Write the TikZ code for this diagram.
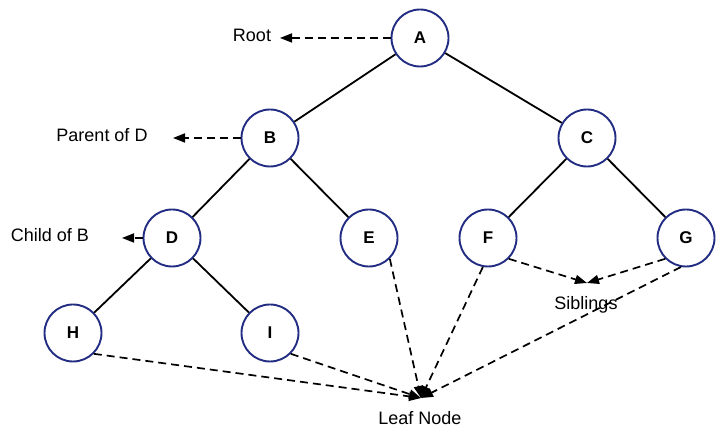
\documentclass[tikz,border=0pt]{standalone}
\usepackage{fontspec}
\setmainfont{Liberation Sans}
\usepackage{tikz}
\usetikzlibrary{positioning, arrows.meta}
\definecolor{nodeblue}{RGB}{34,44,130}
\tikzstyle{vertex} = [circle, minimum size=57pt, inner sep=0pt, line width=1.9pt, draw=nodeblue, fill=white, font=\fontsize{17}{19}\selectfont\bfseries]
\tikzstyle{note} = [anchor=base, inner sep=0pt, font=\fontsize{18}{20}\selectfont]
\tikzstyle{edge} = [line width=1.8pt]
\tikzstyle{arrow} = [line width=1.7pt, dash pattern=on 8pt off 5pt, -{Triangle[length=12pt,width=9pt]}]

\begin{document}
\begin{tikzpicture}[x=1pt, y=1pt, node distance=100pt and 99pt, on grid]
        \useasboundingbox (0,0) rectangle (724,438);
        \node (A) [vertex] at (420,400) {A};
        \node (B) [vertex, below left=100pt and 150pt of A] {B};
        \node (C) [vertex, below right=100pt and 167pt of A] {C};
        \node (D) [vertex, below left=100pt and 98pt of B] {D};
        \node (E) [vertex, below right=of B] {E};
        \node (F) [vertex, below left=of C] {F};
        \node (G) [vertex, below right=of C] {G};
        \node (H) [vertex, below left=95pt and 99pt of D] {H};
        \node (I) [vertex, below right=95pt and 98pt of D] {I};
        \node (root) [note] at (252,396) {Root};
        \node (parent) [note] at (102,296) {Parent of D};
        \node (child) [note] at (50,196) {Child of B};
        \node (siblings) [note] at (586,128) {Siblings};
        \node (leaf) [note] at (420,13) {Leaf Node};
        \coordinate (rootend) at (280,400);
        \coordinate (parentend) at (173,300);
        \coordinate (childend) at (122,200);
        \coordinate (sibend) at (587,155);
        \coordinate (leafend) at (421,40);
        \draw [edge] (A) -- (B);
        \draw [edge] (A) -- (C);
        \draw [edge] (B) -- (D);
        \draw [edge] (B) -- (E);
        \draw [edge] (C) -- (F);
        \draw [edge] (C) -- (G);
        \draw [edge] (D) -- (H);
        \draw [edge] (D) -- (I);
        \draw [arrow] (A) -- (rootend);
        \draw [arrow] (B) -- (parentend);
        \draw [arrow] (D) -- (childend);
        \draw [arrow] (F.-45) -- (sibend);
        \draw [arrow] (G.-135) -- (sibend);
        \draw [arrow] (H.-45) -- (leafend);
        \draw [arrow] (I.-45) -- (leafend);
        \draw [arrow] (E.-45) -- (leafend);
        \draw [arrow] (F.-100) -- (leafend);
        \draw [arrow] (G.-100) -- (leafend);
    \end{tikzpicture}
\end{document}
